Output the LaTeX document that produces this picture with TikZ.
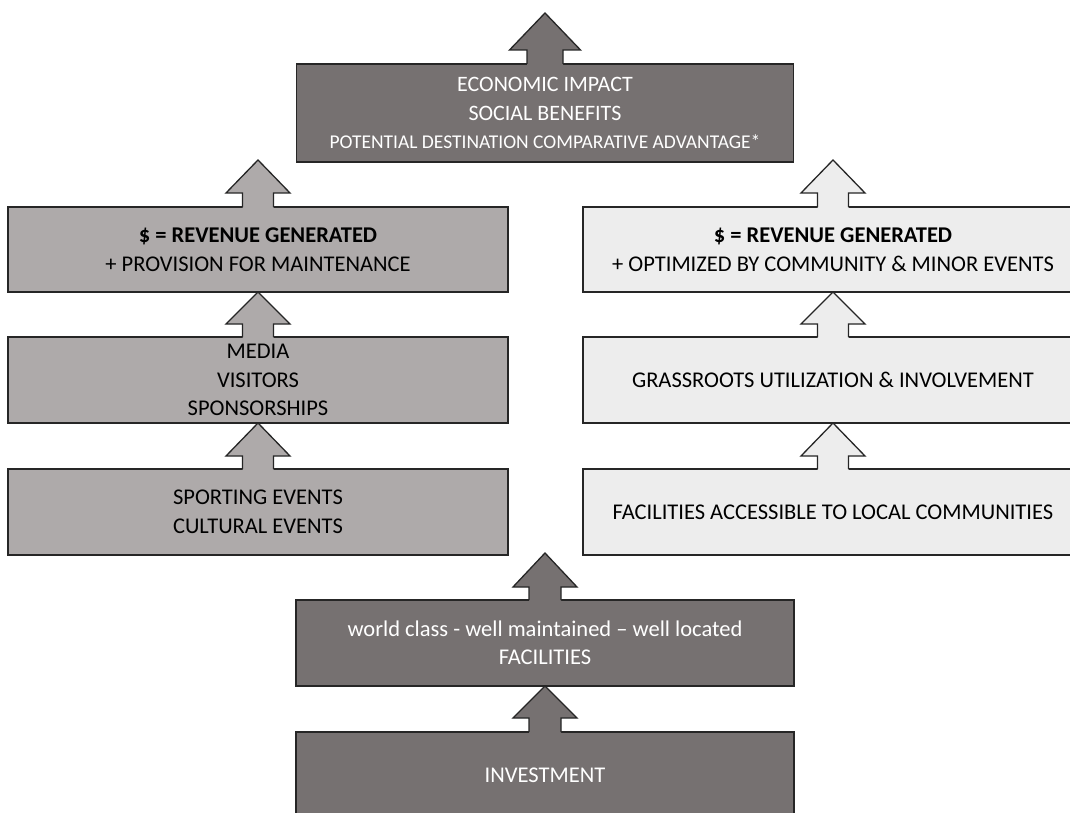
\documentclass[tikz,border=0pt]{standalone}
\usepackage{fontspec}
\setmainfont{Carlito}
\usetikzlibrary{calc}
\definecolor{darkbox}{HTML}{767171}
\definecolor{midbox}{HTML}{AEAAAA}
\definecolor{lightbox}{HTML}{EDEDED}
\definecolor{edge}{HTML}{262626}
\tikzset{
  box/.style={draw=edge, line width=1.3pt, rectangle, minimum height=86pt, inner sep=0pt, outer sep=0pt, align=center, font=\fontsize{22.5}{28.5}\selectfont},
  darkb/.style={box, fill=darkbox, text=white, minimum width=498pt},
  midb/.style={box, fill=midbox, text=black, minimum width=500pt},
  lightb/.style={box, fill=lightbox, text=black, minimum width=500pt},
  arrowline/.style={draw=edge, line width=1.3pt, line join=miter}
}
% #1 node, #2 colour, #3 shaft half width, #4 head half width, #5 shaft length, #6 head height
\newcommand{\boxarrow}[6]{%
  \fill[#2] ($(#1.north)+(-#3,1.5)$) -- ($(#1.north)+(-#3,-#5)$) -- ($(#1.north)+(-#4,-#5)$)
    -- ($(#1.north)+(0,-#5-#6)$) -- ($(#1.north)+(#4,-#5)$) -- ($(#1.north)+(#3,-#5)$)
    -- ($(#1.north)+(#3,1.5)$) -- cycle;
  \draw[arrowline] ($(#1.north)+(-#3,0)$) -- ($(#1.north)+(-#3,-#5)$) -- ($(#1.north)+(-#4,-#5)$)
    -- ($(#1.north)+(0,-#5-#6)$) -- ($(#1.north)+(#4,-#5)$) -- ($(#1.north)+(#3,-#5)$)
    -- ($(#1.north)+(#3,0)$);
}
\begin{document}
\begin{tikzpicture}[x=1pt,y=-1pt]
\useasboundingbox (0,0) rectangle (1070,813);
\clip (0,0) rectangle (1070,813);
\fill[white] (0,0) rectangle (1070,813);

% centre column
\node[darkb, minimum width=497pt, minimum height=98pt] (econ) at (545,113)
  {\fontsize{22}{27.5}\selectfont ECONOMIC IMPACT\\ \fontsize{22}{27.5}\selectfont SOCIAL BENEFITS\\ \fontsize{19.5}{27.5}\selectfont POTENTIAL DESTINATION COMPARATIVE ADVANTAGE*};
\node[darkb] (fac) at (545,643) {world class - well maintained – well located\\ FACILITIES};
\node[darkb] (inv) at (545,775) {INVESTMENT};

% left column
\node[midb, minimum height=85pt] (revl) at (258,249.5) {\textbf{\$ = REVENUE GENERATED}\\ + PROVISION FOR MAINTENANCE};
\node[midb] (media) at (258,380) {MEDIA\\ VISITORS\\ SPONSORSHIPS};
\node[midb] (events) at (258,512) {SPORTING EVENTS\\ CULTURAL EVENTS};

% right column
\node[lightb, minimum height=85pt] (revr) at (833,249.5) {\textbf{\$ = REVENUE GENERATED}\\ + OPTIMIZED BY COMMUNITY \& MINOR EVENTS};
\node[lightb] (grass) at (833,380) {GRASSROOTS UTILIZATION \& INVOLVEMENT};
\node[lightb] (access) at (833,512) {FACILITIES ACCESSIBLE TO LOCAL COMMUNITIES};

% block arrows
\boxarrow{econ}{darkbox}{18}{35.5}{14}{37}
\boxarrow{revl}{midbox}{15.5}{32}{14}{33}
\boxarrow{media}{midbox}{15.5}{32}{13}{32}
\boxarrow{events}{midbox}{15.5}{32}{13}{33}
\boxarrow{revr}{lightbox}{15.5}{32}{14}{33}
\boxarrow{grass}{lightbox}{15.5}{32}{13}{32}
\boxarrow{access}{lightbox}{15.5}{32}{13}{33}
\boxarrow{fac}{darkbox}{16}{32}{13}{34}
\boxarrow{inv}{darkbox}{16}{32}{14}{32}
\end{tikzpicture}
\end{document}
